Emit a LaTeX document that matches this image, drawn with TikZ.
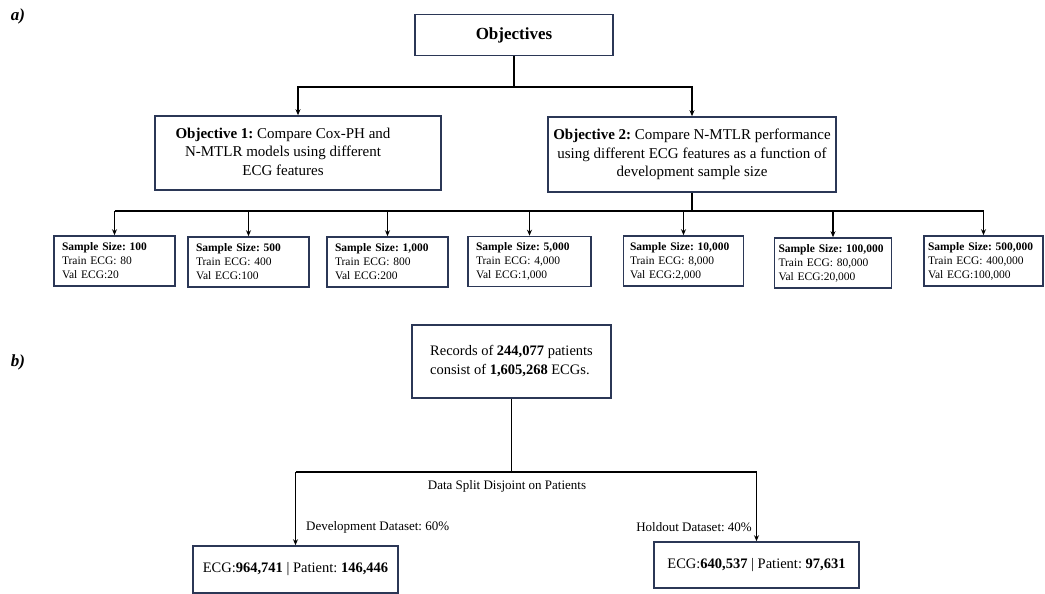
\documentclass[tikz,border=0pt]{standalone}
\usepackage{fontspec}
\setmainfont{Liberation Serif}
\usetikzlibrary{
    arrows.meta,
    calc,
    positioning
}
\definecolor{boxnavy}{HTML}{2B3756}

\begin{document}
\frenchspacing
\begin{tikzpicture}[x=1pt,y=-1pt,
    box/.style={draw=boxnavy,line width=1.6pt,inner sep=0pt,align=center},
    sizebox/.style={draw=boxnavy,line width=1.6pt,inner xsep=8pt,inner ysep=0pt,
        minimum height=50pt,align=left,font=\fontsize{11.5}{14}\selectfont},
    link/.style={line width=1.3pt},
    arr/.style={line width=1.3pt,-{Stealth[length=6pt,width=5pt]}},
    tag/.style={font=\fontsize{13}{15}\selectfont,inner sep=0pt}
]
\useasboundingbox (0,0) rectangle (1045,594);

% Panel labels
\node[font=\fontsize{17}{20}\selectfont\bfseries\itshape] (pa) at (18,16) {a)};
\node[font=\fontsize{17}{20}\selectfont\bfseries\itshape] (pb) at (18,362) {b)};

% ---------------- a) Objectives ----------------
\node[box,minimum width=198pt,minimum height=41pt,
      font=\fontsize{17}{20}\selectfont\bfseries] (obj) at (514,35) {Objectives};

\node[box,minimum width=286pt,minimum height=74pt,
      font=\fontsize{15}{18.5}\selectfont] (o1) at (298,153)
      {\begin{tabular}{@{}c@{}}\textbf{Objective 1:} Compare Cox-PH and\\N-MTLR models using different\\ECG features\end{tabular}\hspace*{30pt}};
\node[box,minimum width=288pt,minimum height=75pt,
      font=\fontsize{15}{18.5}\selectfont] (o2) at (692,154.5)
      {\textbf{Objective 2:} Compare N-MTLR performance\\using different ECG features as a function of\\development sample size};

% Split to the two objectives
\coordinate (j1) at (514,87);
\draw[link] (obj.south) -- (j1);
\draw[arr] (j1) -| (o1.north);
\draw[arr] (j1) -| (o2.north);

% Sample size boxes
\node[sizebox,text width=105pt] (s1) at (114.5,261)
      {\textbf{Sample Size: 100}\\Train ECG: 80\\Val ECG:20};
\node[sizebox,text width=105pt] (s2) at (248.5,262)
      {\textbf{Sample Size: 500}\\Train ECG: 400\\Val ECG:100};
\node[sizebox,text width=105pt] (s3) at (387.5,262)
      {\textbf{Sample Size: 1,000}\\Train ECG: 800\\Val ECG:200};
\node[sizebox,text width=107pt] (s4) at (529.5,261.5)
      {\textbf{Sample Size: 5,000}\\Train ECG: 4,000\\Val ECG:1,000};
\node[sizebox,text width=107pt,inner xsep=6.5pt] (s5) at (683.5,261)
      {\textbf{Sample Size: 10,000}\\Train ECG: 8,000\\Val ECG:2,000};
\node[sizebox,text width=109pt,inner xsep=4pt] (s6) at (833,263)
      {\textbf{Sample Size: 100,000}\\Train ECG: 80,000\\Val ECG:20,000};
\node[sizebox,text width=111pt,inner xsep=4pt] (s7) at (983.5,261)
      {\textbf{Sample Size: 500,000}\\Train ECG: 400,000\\Val ECG:100,000};

% Split to the sample sizes
\coordinate (j2) at (692,211);
\draw[link] (o2.south) -- (j2);
\draw[link] (s1.north |- j2) -- (s7.north |- j2);
\draw[arr] (s1.north |- j2) -- (s1.north);
\draw[arr] (s2.north |- j2) -- (s2.north);
\draw[arr] (s3.north |- j2) -- (s3.north);
\draw[arr] (s4.north |- j2) -- (s4.north);
\draw[arr] (s5.north |- j2) -- (s5.north);
\draw[arr] (s6.north |- j2) -- (s6.north);
\draw[arr] (s7.north |- j2) -- (s7.north);

% ---------------- b) Data split ----------------
\node[box,minimum width=199pt,minimum height=73pt,align=left,
      font=\fontsize{14.5}{19}\selectfont] (rec) at (511.5,361.5)
      {Records of \textbf{244,077} patients\\consist of \textbf{1,605,268} ECGs.};

\node[box,minimum width=205pt,minimum height=47pt,
      font=\fontsize{14.5}{17}\selectfont] (dev) at (295.5,569.5)
      {ECG:\textbf{964,741} | Patient: \textbf{146,446}};
\node[box,minimum width=205pt,minimum height=46pt,
      font=\fontsize{14.5}{17}\selectfont] (hold) at (756.5,565)
      {ECG:\textbf{640,537} | Patient: \textbf{97,631}};

\coordinate (j3) at (511.5,472);
\draw[link] (rec.south) -- (j3);
\draw[link] (dev.north |- j3) -- (hold.north |- j3);
\draw[arr] (dev.north |- j3) -- (dev.north);
\draw[arr] (hold.north |- j3) -- (hold.north);

% Split labels
\node[tag] (split) at (507,486) {Data Split Disjoint on Patients};
\node[tag,anchor=west] (devlab) at (306,527) {Development Dataset: 60\%};
\node[tag,anchor=east] (holdlab) at (752,527) {Holdout Dataset: 40\%};

\end{tikzpicture}
\end{document}
